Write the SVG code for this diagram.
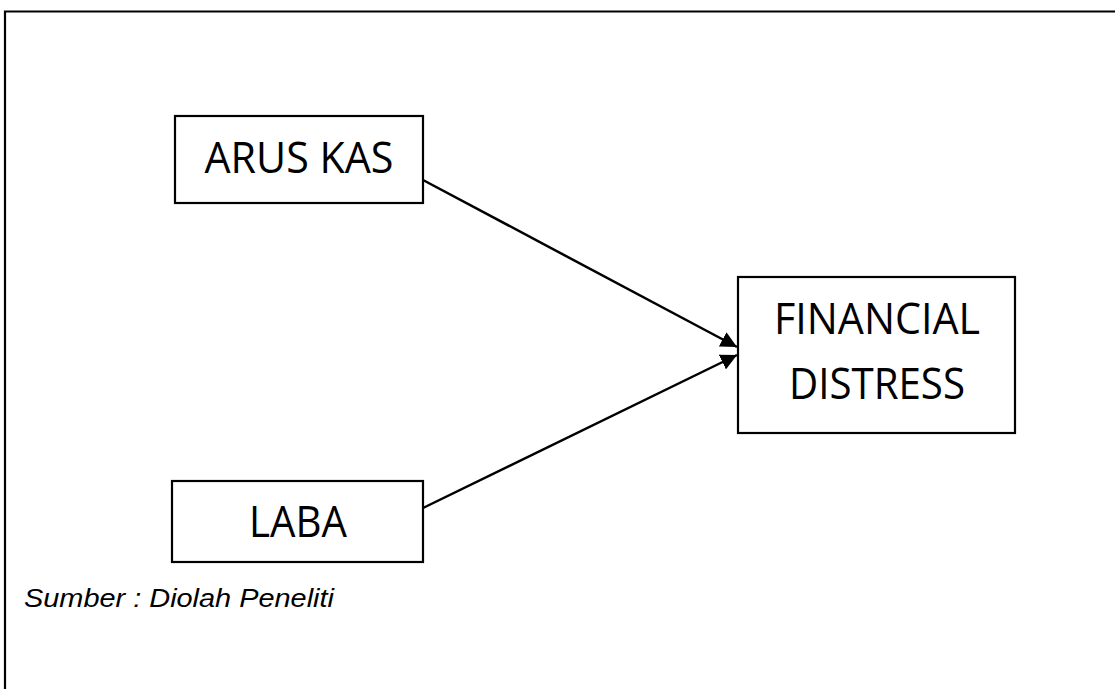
<svg xmlns="http://www.w3.org/2000/svg" width="1115" height="689" viewBox="0 0 1115 689">
<style>
.box{fill:#fff;stroke:#000;stroke-width:2.2}
.lbl{font-family:"Open Sans","Liberation Sans",sans-serif;font-size:43px;fill:#000;text-anchor:middle}
.conn{stroke:#000;stroke-width:2.5;fill:none;marker-end:url(#ah)}
.src{font-family:"Liberation Sans",Arial,sans-serif;font-style:italic;font-size:25px;fill:#000}
</style>
<defs>
<marker id="ah" viewBox="0 0 10 10" refX="10" refY="5" markerWidth="6.5" markerHeight="6.5" markerUnits="strokeWidth" orient="auto">
<path d="M0,0 L10,5 L0,10 z" fill="#000"/>
</marker>
</defs>
<rect width="1115" height="689" fill="#fff"/>
<path d="M5,689 L5,11.5 L1115,11.5" fill="none" stroke="#000" stroke-width="2.2"/>
<g id="connectors">
<line class="conn" x1="423" y1="180" x2="737" y2="347"/>
<line class="conn" x1="423" y1="508" x2="737" y2="355"/>
</g>
<g id="arus-kas">
<rect class="box" x="175" y="116" width="248" height="87"/>
<text class="lbl" x="299" y="173" textLength="189" lengthAdjust="spacingAndGlyphs">ARUS KAS</text>
</g>
<g id="financial-distress">
<rect class="box" x="738" y="277" width="277" height="156"/>
<text class="lbl" x="877" y="334" textLength="206" lengthAdjust="spacingAndGlyphs">FINANCIAL</text>
<text class="lbl" x="877" y="399" textLength="176" lengthAdjust="spacingAndGlyphs">DISTRESS</text>
</g>
<g id="laba">
<rect class="box" x="172" y="481" width="251" height="81"/>
<text class="lbl" x="298" y="537" textLength="98" lengthAdjust="spacingAndGlyphs">LABA</text>
</g>
<text class="src" x="24" y="607" textLength="310" lengthAdjust="spacingAndGlyphs">Sumber : Diolah Peneliti</text>
</svg>
